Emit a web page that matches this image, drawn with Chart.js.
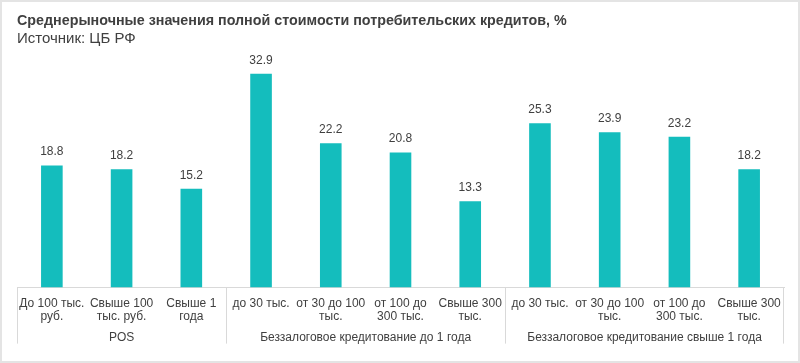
<!DOCTYPE html>
<html>
<head>
  <title>ПСК потребительских кредитов</title>
  <script src="https://cdn.jsdelivr.net/npm/chart.js"></script>
  <style>
    html, body { margin: 0; padding: 0; background: #fff; }
    #wrap {
      position: relative;
      width: 800px;
      height: 363px;
      box-sizing: border-box;
      border: 2px solid #e4e4e4;
    }
    #chart { position: absolute; left: 0; top: 0; }
  </style>
</head>
<body>
  <div id="wrap">
    <canvas id="chart" width="796" height="359"></canvas>
  </div>

  <script>
    // подписи категорий
    var categories = [
      ['До 100 тыс.', 'руб.'],
      ['Свыше 100', 'тыс. руб.'],
      ['Свыше 1', 'года'],
      ['до 30 тыс.'],
      ['от 30 до 100', 'тыс.'],
      ['от 100 до', '300 тыс.'],
      ['Свыше 300', 'тыс.'],
      ['до 30 тыс.'],
      ['от 30 до 100', 'тыс.'],
      ['от 100 до', '300 тыс.'],
      ['Свыше 300', 'тыс.']
    ];
    // значения ПСК, %
    var values = [18.8, 18.2, 15.2, 32.9, 22.2, 20.8, 13.3, 25.3, 23.9, 23.2, 18.2];
    // группы: название и сколько категорий в группе
    var groupNames = ['POS', 'Беззалоговое кредитование до 1 года', 'Беззалоговое кредитование свыше 1 года'];
    var groupSizes = [3, 4, 4];

    var textColor = '#404040';
    var lineColor = '#d9d9d9';
    var font = '"Liberation Sans", Arial, sans-serif';

    // подписи значений над столбцами
    var valueLabels = {
      id: 'valueLabels',
      afterDatasetsDraw: function (chart) {
        var ctx = chart.ctx;
        var meta = chart.getDatasetMeta(0);
        ctx.save();
        ctx.font = '12px ' + font;
        ctx.fillStyle = textColor;
        ctx.textAlign = 'center';
        ctx.textBaseline = 'alphabetic';
        meta.data.forEach(function (bar, i) {
          ctx.fillText(values[i].toFixed(1), bar.x, bar.y - 10);
        });
        ctx.restore();
      }
    };

    // разделители и названия групп под осью
    var groupAxis = {
      id: 'groupAxis',
      afterDraw: function (chart) {
        var ctx = chart.ctx;
        var xs = chart.scales.x;
        var top = chart.chartArea.bottom;
        var step = xs.getPixelForValue(1) - xs.getPixelForValue(0);
        var bottom = top + 56;
        ctx.save();
        ctx.strokeStyle = lineColor;
        ctx.lineWidth = 1;
        ctx.font = '12px ' + font;
        ctx.fillStyle = textColor;
        ctx.textAlign = 'center';
        ctx.textBaseline = 'middle';
        var start = 0;
        groupSizes.forEach(function (n, g) {
          var x0 = xs.getPixelForValue(start) - step / 2;
          var x1 = xs.getPixelForValue(start + n - 1) + step / 2;
          ctx.beginPath();
          ctx.moveTo(Math.round(x0) + 0.5, top);
          ctx.lineTo(Math.round(x0) + 0.5, bottom);
          if (g === groupSizes.length - 1) {
            ctx.moveTo(Math.round(x1) - 0.5, top);
            ctx.lineTo(Math.round(x1) - 0.5, bottom);
          }
          ctx.stroke();
          ctx.fillText(groupNames[g], (x0 + x1) / 2, top + 50);
          start += n;
        });
        ctx.restore();
      }
    };

    var ctx = document.getElementById('chart').getContext('2d');
    Chart.defaults.font.family = font;
    Chart.defaults.color = textColor;
    var chart = new Chart(ctx, {
      type: 'bar',
      data: {
        labels: categories,
        datasets: [{
          data: values,
          backgroundColor: '#14bdbd',
          barPercentage: 0.31,
          categoryPercentage: 1
        }]
      },
      options: {
        responsive: false,
        animation: false,
        layout: {
          padding: { left: 15, right: 14, top: 0, bottom: 29 }
        },
        plugins: {
          legend: { display: false },
          tooltip: { enabled: false },
          title: {
            display: true,
            align: 'start',
            text: 'Среднерыночные значения полной стоимости потребительских кредитов, %',
            color: textColor,
            font: { size: 14.3, weight: 'bold' },
            padding: { top: 10, bottom: 1 }
          },
          subtitle: {
            display: true,
            align: 'start',
            text: 'Источник: ЦБ РФ',
            color: textColor,
            font: { size: 15 },
            padding: { top: 0, bottom: 12 }
          }
        },
        scales: {
          x: {
            grid: { display: true, drawOnChartArea: false, drawTicks: false },
            border: { display: true, color: lineColor },
            ticks: {
              autoSkip: false,
              maxRotation: 0,
              minRotation: 0,
              padding: 9,
              color: textColor,
              font: { size: 12, lineHeight: 1.1 }
            }
          },
          y: {
            display: false,
            min: 0,
            max: 35
          }
        }
      },
      plugins: [valueLabels, groupAxis]
    });
  </script>
</body>
</html>
